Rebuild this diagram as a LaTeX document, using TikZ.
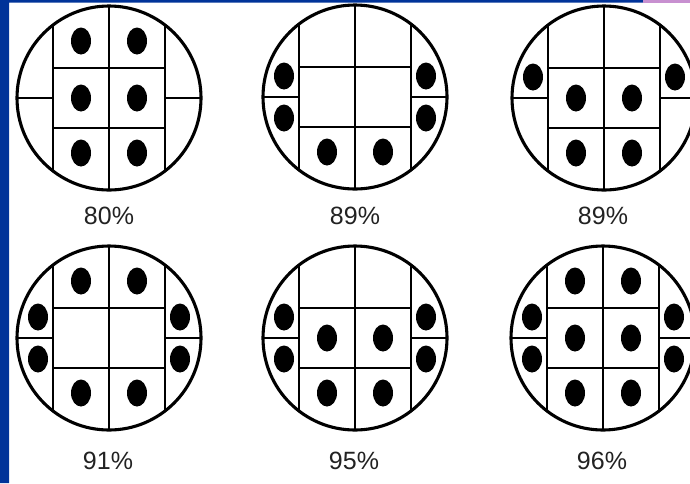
\documentclass[tikz,border=0pt]{standalone}
\usepackage{fontspec}
\setmainfont{Liberation Sans}
\usepackage{tikz}
\usetikzlibrary{positioning}
\definecolor{slideBlue}{HTML}{003399}
\definecolor{slidePink}{HTML}{C890D0}
\definecolor{pctGray}{HTML}{222222}
% one wafer: #1 centre, #2 list of die dots (dx/dy)
\newcommand{\wafer}[2]{%
\begin{scope}[shift={#1}]
\begin{scope}
\clip (0,0) circle[radius=92];
\draw[cutline] (-56,-100)--(-56,100) (0,-100)--(0,100) (56,-100)--(56,100);
\draw[cutline] (-56,-30)--(56,-30) (-56,30)--(56,30);
\draw[cutline] (-100,0)--(-56,0) (56,0)--(100,0);
\end{scope}
\draw[rim] (0,0) circle[radius=92];
\foreach \dx/\dy in {#2} \fill (\dx,\dy) ellipse[x radius=10, y radius=13.5];
\end{scope}}

\begin{document}
\begin{tikzpicture}[x=1pt,y=-1pt,cutline/.style={line width=2.6pt},rim/.style={line width=3.1pt},pct/.style={font=\fontsize{25}{29}\selectfont, text=pctGray, inner sep=0pt}]
\useasboundingbox (0,0) rectangle (690,483);
\clip (0,0) rectangle (690,483);
\fill[white] (0,0) rectangle (690,483);
\fill[slideBlue] (0,0) rectangle (9,483) (0,0) rectangle (643,2.5);
\fill[slidePink] (643,0) rectangle (690,2.5);
% top row
\wafer{(109,98)}{-28/-57,28/-57,-28/0,28/0,-28/55,28/55}
\wafer{(355,97)}{-71/-21,-71/21,71/-21,71/21,-28/55,28/55}
\wafer{(604,98)}{-71/-21,71/-21,-28/0,28/0,-28/55,28/55}
\node[pct] (p80) at (109,216) {80\%};
\node[pct] (p89a) at (355,216) {89\%};
\node[pct] (p89b) at (603,216) {89\%};
% bottom row
\wafer{(109,338)}{-71/-21,-71/21,71/-21,71/21,-28/-57,28/-57,-28/55,28/55}
\wafer{(355,338)}{-71/-21,-71/21,71/-21,71/21,-28/0,28/0,-28/55,28/55}
\wafer{(603,338)}{-71/-21,-71/21,71/-21,71/21,-28/-57,28/-57,-28/0,28/0,-28/55,28/55}
\node[pct] (p91) at (108,461) {91\%};
\node[pct] (p95) at (354,461) {95\%};
\node[pct] (p96) at (602,461) {96\%};
\end{tikzpicture}
\end{document}
